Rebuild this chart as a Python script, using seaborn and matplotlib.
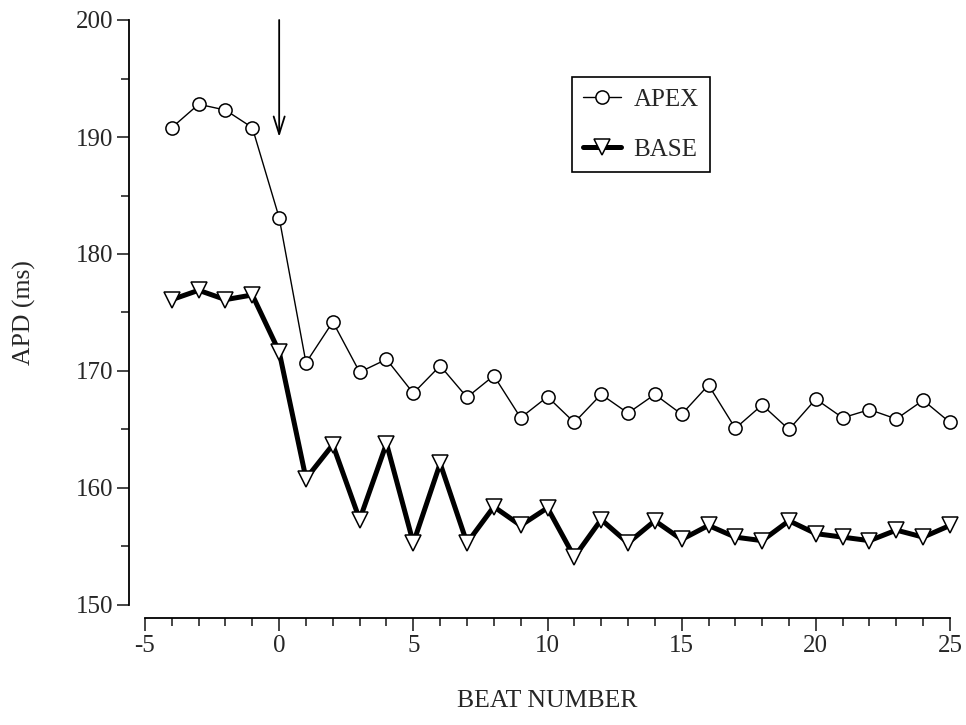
import matplotlib
matplotlib.use("Agg")
import matplotlib.pyplot as plt
from matplotlib.ticker import MultipleLocator
import seaborn as sns

# beat numbers
beats = list(range(-4, 26))

# APD at the apex (ms)
apex_apd = [190.8, 192.8, 192.3, 190.8, 183.1, 170.7, 174.2, 169.9, 171.0, 168.1,
            170.45, 167.75, 169.6, 166.0, 167.8, 165.6, 168.0, 166.4, 168.0, 166.3,
            168.8, 165.1, 167.1, 165.0, 167.6, 166.0, 166.7, 165.9, 167.5, 165.6]

# APD at the base (ms)
base_apd = [176.1, 176.9, 176.1, 176.5, 171.65, 160.8, 163.7, 157.3, 163.8, 155.3,
            162.1, 155.3, 158.4, 156.8, 158.3, 154.1, 157.3, 155.3, 157.2, 155.6,
            156.8, 155.8, 155.5, 157.2, 156.1, 155.8, 155.5, 156.4, 155.8, 156.8]

x_ticks = [-5, 0, 5, 10, 15, 20, 25]
y_ticks = [150, 160, 170, 180, 190, 200]

sns.set_style("ticks")
plt.rcParams["font.family"] = ["Liberation Serif", "DejaVu Serif"]
plt.rcParams["font.size"] = 18
plt.rcParams["axes.unicode_minus"] = False

fig = plt.figure(figsize=(9.66, 7.25), dpi=100)
ax = fig.add_axes([145 / 966, 1 - 605 / 725, 805 / 966, 585 / 725])

sns.lineplot(x=beats, y=apex_apd, ax=ax, color="black", linewidth=1.0,
             marker="o", markersize=9.5, markerfacecolor="white",
             markeredgecolor="black", markeredgewidth=1.1, label="APEX", clip_on=False)
sns.lineplot(x=beats, y=base_apd, ax=ax, color="black", linewidth=3.6,
             marker="v", markersize=11, markerfacecolor="white",
             markeredgecolor="black", markeredgewidth=1.1, label="BASE", clip_on=False)

# arrow marking beat 0
ax.annotate("", xy=(0, 190.0), xytext=(0, 200),
            arrowprops=dict(arrowstyle="->,head_length=0.7,head_width=0.22",
                            color="black", lw=1.3, shrinkA=0, shrinkB=0))

ax.set_xlim(-5, 25)
ax.set_ylim(150, 200)
ax.set_xticks(x_ticks)
ax.set_yticks(y_ticks)
ax.xaxis.set_minor_locator(MultipleLocator(1))
ax.yaxis.set_minor_locator(MultipleLocator(5))
ax.tick_params(axis="x", which="major", length=9, width=1.2, direction="out", pad=3, labelsize=18)
ax.tick_params(axis="x", which="minor", length=6, width=1.2, direction="out")
ax.tick_params(axis="y", which="major", length=8.5, width=1.2, direction="out", pad=3, labelsize=18)
ax.tick_params(axis="y", which="minor", length=5.5, width=1.2, direction="out")

sns.despine(ax=ax)
ax.spines["left"].set_position(("outward", 11.5))
ax.spines["bottom"].set_position(("outward", 9.5))
for s in ["left", "bottom"]:
    ax.spines[s].set_linewidth(1.3)
    ax.spines[s].set_color("black")

ax.set_xlabel("BEAT NUMBER", fontsize=18.5)
ax.set_ylabel("APD (ms)", fontsize=18.5)
ax.xaxis.set_label_coords(0.5, -0.145)
ax.yaxis.set_label_coords(-0.135, 0.5)

leg = ax.legend(loc="upper left", bbox_to_anchor=(572 / 966, 1 - 77 / 725),
                bbox_transform=fig.transFigure, frameon=True, fancybox=False,
                edgecolor="black", handlelength=1.5, handletextpad=0.5,
                labelspacing=1.1, borderpad=0.45, borderaxespad=0, fontsize=18)
leg.get_frame().set_linewidth(1.2)
leg.get_frame().set_alpha(1)

fig.savefig("out.png", dpi=100)
plt.close(fig)
